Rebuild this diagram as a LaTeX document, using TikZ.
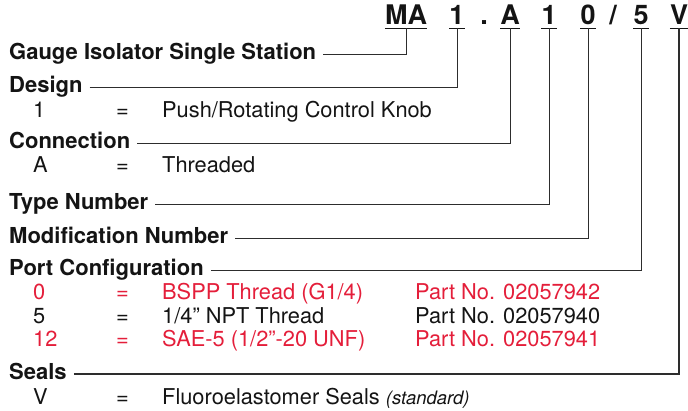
\documentclass[tikz,border=0pt]{standalone}
\usepackage{fontspec}
\setmainfont{TeX Gyre Heros}
\definecolor{pred}{RGB}{228,30,58}
\definecolor{ink}{RGB}{20,20,20}
\definecolor{wire}{RGB}{45,45,45}
\begin{document}
\begin{tikzpicture}[x=1pt,y=-1pt,
  code/.style={font=\fontsize{27}{27}\selectfont\bfseries, text=ink, inner sep=0pt, text depth=3pt, anchor=base},
  head/.style={font=\fontsize{22}{22}\selectfont\bfseries, text=ink, anchor=base west, inner ysep=0pt, inner xsep=7pt, text height=12pt, text depth=0pt},
  body/.style={font=\fontsize{21.8}{22}\selectfont, text=ink, anchor=base west, inner sep=0pt},
  redrow/.style={body, text=pred},
  conn/.style={draw=wire, line width=0.9pt},
  uline/.style={draw=ink, line width=1.3pt},
  sealconn/.style={draw=wire, line width=1.4pt}]
\useasboundingbox (0,0) rectangle (688,411);
% code line
\node[code] (cMA) at (406,25) {MA};
\node[code] (c1a) at (457,25) {1};
\node[code] (cdot) at (484,25) {.};
\node[code] (cA) at (510,25) {A};
\node[code] (c1b) at (549,25) {1};
\node[code] (c0) at (588,25) {0};
\node[code] (cslash) at (613,25) {/};
\node[code] (c5) at (641,25) {5};
\node[code] (cV) at (679,25) {V};
\foreach \n in {cMA,c1a,cA,c1b,c0,c5,cV}
  \draw[uline] (\n.south west) -- (\n.south east);
% headings
\node[head] (hGauge) at (2,60) {Gauge Isolator Single Station};
\node[head] (hDesign) at (2,93) {Design};
\node[head] (hConn) at (2,149) {Connection};
\node[head] (hType) at (2,210) {Type Number};
\node[head] (hMod) at (2,244) {Modification Number};
\node[head] (hPort) at (2,276) {Port Configuration};
\node[head] (hSeals) at (2,380) {Seals};
% rows
\node[body] (d1v) at (33,118) {1};
\node[body] (d1e) at (116,118) {=};
\node[body] (d1t) at (162,118) {Push/Rotating Control Knob};
\node[body] (cAv) at (33,173) {A};
\node[body] (cAe) at (116,173) {=};
\node[body] (cAt) at (162,173) {Threaded};
\node[redrow] (p0v) at (33,300) {0};
\node[redrow] (p0e) at (116,300) {=};
\node[redrow] (p0t) at (162,300) {BSPP Thread (G1/4)};
\node[redrow] (p0p) at (415,300) {Part No. 02057942};
\node[body] (p5v) at (33,323.5) {5};
\node[body] (p5e) at (116,323.5) {=};
\node[body] (p5t) at (162,323.5) {1/4” NPT Thread};
\node[body] (p5p) at (415,323.5) {Part No. 02057940};
\node[redrow] (p12v) at (33,347) {12};
\node[redrow] (p12e) at (116,347) {=};
\node[redrow] (p12t) at (162,347) {SAE-5 (1/2”-20 UNF)};
\node[redrow] (p12p) at (415,347) {Part No. 02057941};
\node[body] (sVv) at (33,404) {V};
\node[body] (sVe) at (116,404) {=};
\node[body] (sVt) at (162,404) {Fluoroelastomer Seals {\fontsize{18.5}{19}\selectfont\itshape (standard)}};
% connectors
\draw[conn] (hGauge.east) -| (cMA.south);
\draw[conn] (hDesign.east) -| (c1a.south);
\draw[conn] (hConn.east) -| (cA.south);
\draw[conn] (hType.east) -| (c1b.south);
\draw[conn] (hMod.east) -| (c0.south);
\draw[conn] (hPort.east) -| (c5.south);
\draw[sealconn] (hSeals.east) -| (cV.south);
\end{tikzpicture}
\end{document}
